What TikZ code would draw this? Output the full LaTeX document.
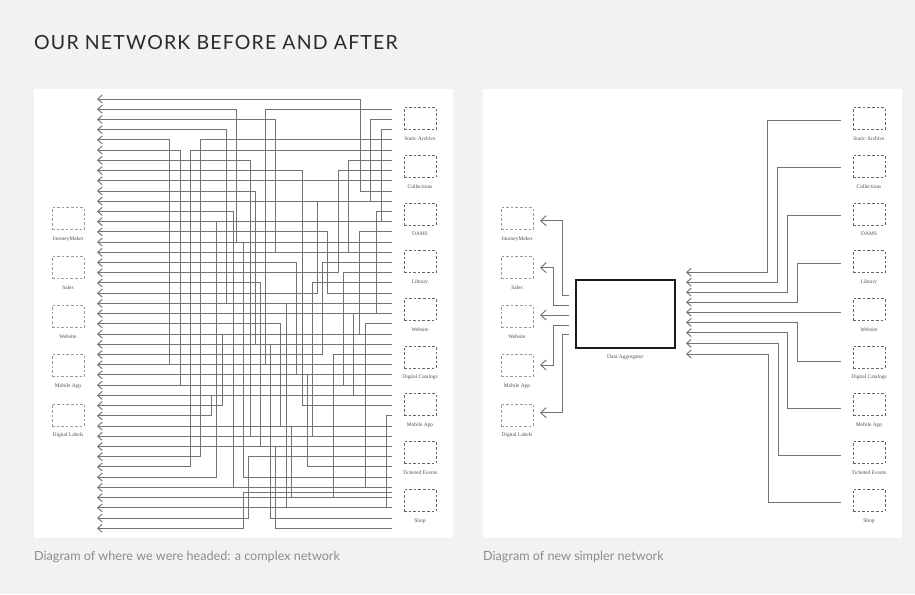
\documentclass[tikz,border=0pt]{standalone}
\usepackage{fontspec}
\setmainfont{Lato}
\newfontfamily\titlefont[LetterSpace=6]{Lato}
\newfontfamily\labfont{Liberation Serif}
\usetikzlibrary{arrows.meta}
\definecolor{bgc}{HTML}{F2F2F2}
\definecolor{wirec}{HTML}{737373}
\definecolor{dashc}{HTML}{999999}
\definecolor{dashd}{HTML}{666666}
\definecolor{labc}{HTML}{505050}
\definecolor{titc}{HTML}{2A2A2A}
\definecolor{capc}{HTML}{8C8C8C}
\definecolor{aggc}{HTML}{1A1A1A}
\begin{document}
\begin{tikzpicture}[x=1pt,y=-1pt,
  wire/.style={draw=wirec, line width=0.95pt, -{Straight Barb[length=4.5pt,width=8pt,line width=0.95pt]}},
  bigwire/.style={draw=wirec, line width=0.95pt, -{Straight Barb[length=5.5pt,width=10pt,line width=0.95pt]}},
  sysbox/.style={draw=dashc, dash pattern=on 2.6pt off 2pt, line width=0.9pt, minimum width=32pt, minimum height=22pt, inner sep=0pt},
  srcbox/.style={sysbox, draw=dashd, line width=1pt},
  syslab/.style={font=\labfont\fontsize{5.4}{6}\selectfont, text=labc, inner sep=0pt, anchor=base},
  aggbox/.style={draw=aggc, line width=1.9pt, minimum width=99pt, minimum height=68pt, inner sep=0pt},
  captext/.style={font=\fontsize{12.6}{15}\selectfont, text=capc, inner sep=0pt, anchor=base west},
  titletext/.style={font=\titlefont\fontsize{19.5}{22}\selectfont, text=titc, inner sep=0pt, anchor=base west}]
\path[use as bounding box, fill=bgc] (0,0) rectangle (915,594);
\fill[white] (34,89) rectangle (452.7,538.3);
\fill[white] (482.7,89) rectangle (901.7,538.3);
\node[titletext] (title) at (34,49.3) {OUR NETWORK BEFORE AND AFTER};
\node[captext] (capL) at (34,560.7) {Diagram of where we were headed: a complex network};
\node[captext] (capR) at (483,560.7) {Diagram of new simpler network};
% ---------- systems ----------
\foreach \n/\t [count=\k from 0] in {jm/JourneyMaker, sa/Sales, we/Website, ma/Mobile App, dl/Digital Labels}{
  \node[sysbox] (L\n) at (68,{218.7+49.08*\k}) {};
  \node[syslab] (L\n-t) at (68,{240.4+49.08*\k}) {\t};
  \node[sysbox] (R\n) at (517,{218.7+49.08*\k}) {};
  \node[syslab] (R\n-t) at (517,{240.4+49.08*\k}) {\t};
}
\foreach \n/\t [count=\k from 0] in {sa/Static Archive, co/Collections, da/DAMS, li/Library, we/Website, dc/Digital Catalogs, ma/Mobile App, te/Ticketed Events, sh/Shop}{
  \node[srcbox] (LS\n) at (420,{118.7+47.7*\k}) {};
  \node[syslab] (LS\n-t) at (420,{140.4+47.7*\k}) {\t};
  \node[srcbox] (RS\n) at (869,{118.7+47.7*\k}) {};
  \node[syslab] (RS\n-t) at (869,{140.4+47.7*\k}) {\t};
}
% ---------- left panel: tangle ----------
\foreach \a/\s/\xv in {0/9/360, 1/14/236, 2/15/275, 3/20/226, 4/26/169, 5/28/180, 6/33/250,
  7/30/302.7, 9/24/255, 10/2/370, 11/38/233.3, 12/3/381.7, 13/19/327.3, 14/37/243.3,
  15/6/348.3, 16/27/296.7, 17/7/338.3, 18/34/260, 19/10/317.3, 20/40/286, 21/11/376, 22/32/280,
  23/13/359.3, 24/41/270, 25/16/322, 26/1/265, 27/36/307.3, 28/17/343, 29/21/353, 30/23/222.7,
  31/29/211.7, 32/39/291, 33/18/312, 34/42/275, 35/4/200.7, 36/5/190.7, 37/12/216, 38/22/365,
  39/25/333, 40/31/386, 41/35/248, 42/38.5/243}{
  \coordinate (tip\a) at (97,{99+10.22*\a});
  \coordinate (src\a) at (391.7,{99+10.22*\s});
  \draw[wire] (src\a) -| ({\xv},{99+10.22*\a}) -- (tip\a);
}
\coordinate (tip8) at (97,{99+10.22*8});
\coordinate (src8) at (391.7,{99+10.22*8});
\draw[wire] (src8) -- (tip8);
% ---------- right panel ----------
\node[aggbox] (agg) at (625.3,313.8) {};
\node[syslab] (agg-t) at (625.3,358.6) {Data Aggregator};
\foreach \n/\sy/\bx/\ty in {jm/295/562.7/220.7, sa/305/553.3/267.7, ma/325/553.3/365, dl/334.3/562.7/412.7}{
  \coordinate (o\n) at (569.3,\sy);
  \coordinate (t\n) at (540,\ty);
  \draw[bigwire] (o\n) -| (\bx,\ty) -- (t\n);
}
\coordinate (owe) at (569.3,315);
\coordinate (twe) at (540,315);
\draw[bigwire] (owe) -- (twe);
\foreach \n/\sy/\bx/\ty in {sa/120/767.3/272.3, co/167.8/777.3/282.2, da/215.6/787.3/292.2, li/263.4/797.3/302.2,
  dc/361/797.3/322.4, ma/408.3/787.7/332.7, te/455.7/778.3/343.3, sh/502.3/768.3/354}{
  \coordinate (i\n) at (840.7,\sy);
  \coordinate (a\n) at (686,\ty);
  \draw[wire] (i\n) -| (\bx,\ty) -- (a\n);
}
\coordinate (iwe) at (840.7,312.2);
\coordinate (awe) at (686,312.2);
\draw[wire] (iwe) -- (awe);
\end{tikzpicture}
\end{document}
